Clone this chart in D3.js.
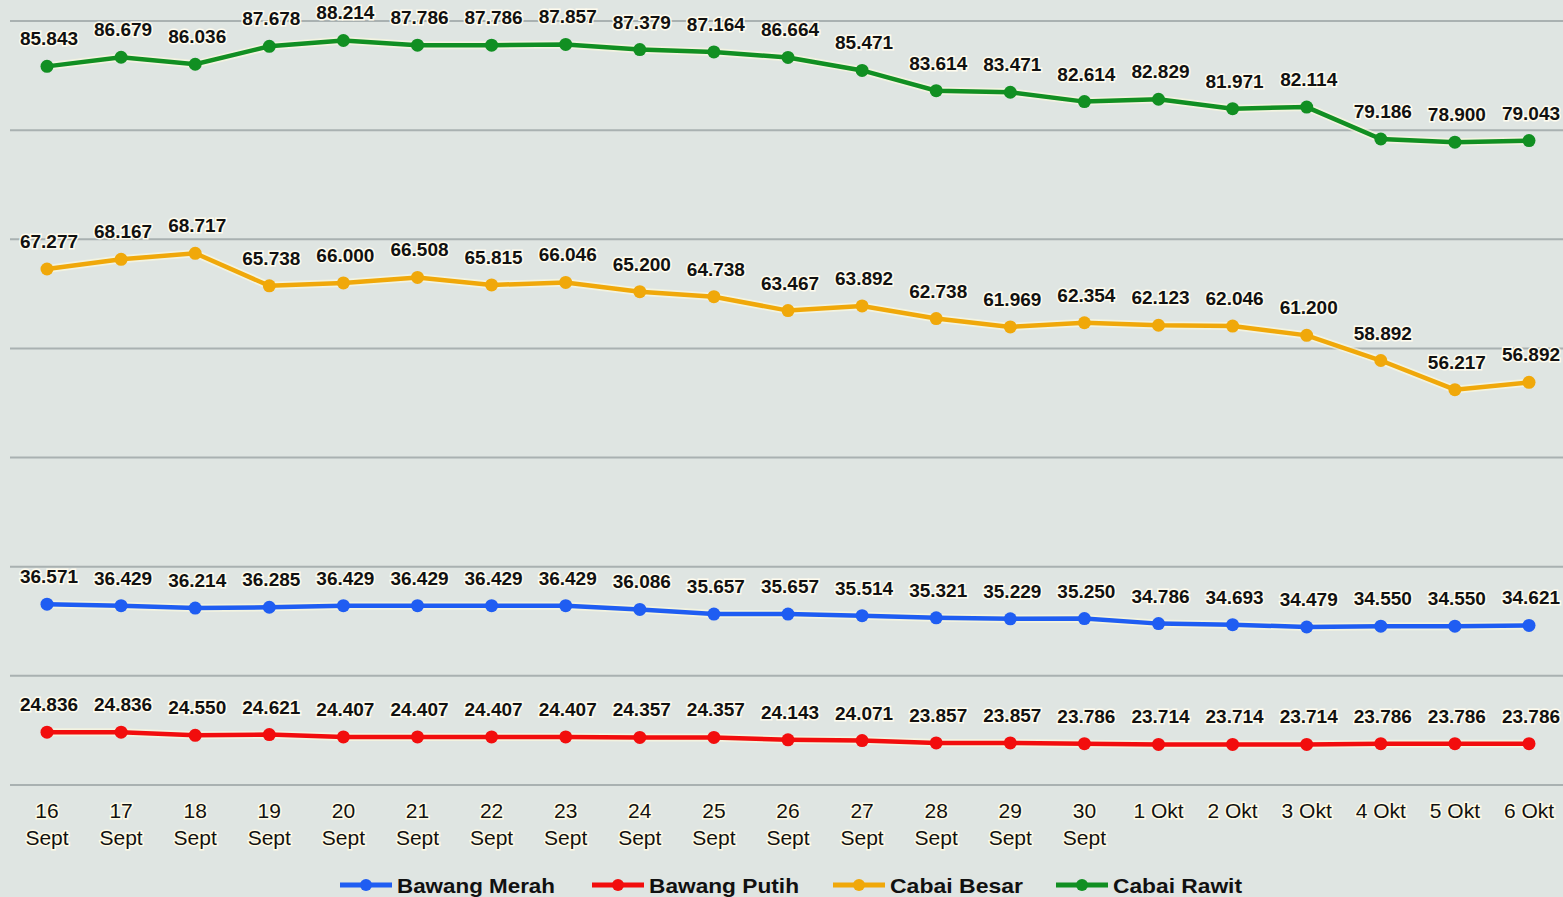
<!doctype html>
<html>
<head>
    <meta charset="UTF-8">
    <title>harga</title>
    <script src="https://d3js.org/d3.v7.min.js"></script>
    <style>
        body { margin: 0; background: #dfe5e2; }
        text { font-family: "Liberation Sans", Arial, sans-serif; }
    </style>
</head>
<body>
<svg width="1563" height="897"></svg>
<script>
    var days = ["16 Sept","17 Sept","18 Sept","19 Sept","20 Sept","21 Sept","22 Sept","23 Sept","24 Sept","25 Sept",
                "26 Sept","27 Sept","28 Sept","29 Sept","30 Sept","1 Okt","2 Okt","3 Okt","4 Okt","5 Okt","6 Okt"];

    var bawangMerah = [36.571,36.429,36.214,36.285,36.429,36.429,36.429,36.429,36.086,35.657,
                       35.657,35.514,35.321,35.229,35.250,34.786,34.693,34.479,34.550,34.550,34.621];
    var bawangPutih = [24.836,24.836,24.550,24.621,24.407,24.407,24.407,24.407,24.357,24.357,
                       24.143,24.071,23.857,23.857,23.786,23.714,23.714,23.714,23.786,23.786,23.786];
    var cabaiBesar  = [67.277,68.167,68.717,65.738,66.000,66.508,65.815,66.046,65.200,64.738,
                       63.467,63.892,62.738,61.969,62.354,62.123,62.046,61.200,58.892,56.217,56.892];
    var cabaiRawit  = [85.843,86.679,86.036,87.678,88.214,87.786,87.786,87.857,87.379,87.164,
                       86.664,85.471,83.614,83.471,82.614,82.829,81.971,82.114,79.186,78.900,79.043];

    var gridTicks = [20,30,40,50,60,70,80,90];

    var series = [
        {name: "Bawang Merah", values: bawangMerah, color: "#1f5df2"},
        {name: "Bawang Putih", values: bawangPutih, color: "#f20d0d"},
        {name: "Cabai Besar",  values: cabaiBesar,  color: "#f0a80a"},
        {name: "Cabai Rawit",  values: cabaiRawit,  color: "#118f22"}
    ];

    var svg = d3.select("svg");

    var x = d3.scalePoint().domain(days).range([47, 1529]);
    var y = d3.scaleLinear().domain([20, 90]).range([785, 21]);

    // grid
    svg.append("g").selectAll("line").data(gridTicks).enter().append("line")
        .attr("x1", 10).attr("x2", 1563)
        .attr("y1", function(d){ return y(d); })
        .attr("y2", function(d){ return y(d); })
        .attr("stroke", "#a9b1b1").attr("stroke-width", 2);

    // x labels
    var xl = svg.append("g").selectAll("text").data(days).enter().append("text")
        .attr("text-anchor", "middle")
        .attr("font-size", 21)
        .attr("fill", "#111")
        .attr("stroke", "#fffbe6").attr("stroke-width", 3).attr("paint-order", "stroke")
        .attr("x", function(d){ return x(d); });
    xl.each(function(d){
        var parts = d.split(" ");
        var t = d3.select(this);
        if (parts[1] === "Sept") {
            t.append("tspan").attr("x", x(d)).attr("y", 818).text(parts[0]);
            t.append("tspan").attr("x", x(d)).attr("y", 845).text(parts[1]);
        } else {
            t.append("tspan").attr("x", x(d)).attr("y", 818).text(d);
        }
    });

    var line = d3.line()
        .x(function(d, i){ return x(days[i]); })
        .y(function(d){ return y(d); });

    series.forEach(function(s){
        var g = svg.append("g");
        g.append("path").datum(s.values)
            .attr("d", line)
            .attr("fill", "none")
            .attr("stroke", "#fffbe0").attr("stroke-width", 8).attr("stroke-opacity", 0.6);
        g.append("path").datum(s.values)
            .attr("d", line)
            .attr("fill", "none")
            .attr("stroke", s.color).attr("stroke-width", 4.5);
        g.selectAll("circle").data(s.values).enter().append("circle")
            .attr("cx", function(d, i){ return x(days[i]); })
            .attr("cy", function(d){ return y(d); })
            .attr("r", 6.5)
            .attr("fill", s.color);
        g.selectAll("text").data(s.values).enter().append("text")
            .attr("x", function(d, i){ return x(days[i]) + 2; })
            .attr("y", function(d){ return y(d) - 21; })
            .attr("text-anchor", "middle")
            .attr("font-size", 19)
            .attr("font-weight", "bold")
            .attr("fill", "#111")
            .attr("stroke", "#fffcee").attr("stroke-width", 3).attr("paint-order", "stroke")
            .text(function(d){ return d.toFixed(3); });
    });

    // legend
    var legX = [340, 592, 833, 1056];
    var leg = svg.append("g").selectAll("g").data(series).enter().append("g")
        .attr("transform", function(d, i){ return "translate(" + legX[i] + ",885)"; });
    leg.append("line").attr("x1", 0).attr("x2", 52).attr("y1", 0).attr("y2", 0)
        .attr("stroke", function(d){ return d.color; }).attr("stroke-width", 5);
    leg.append("circle").attr("cx", 26).attr("cy", 0).attr("r", 6)
        .attr("fill", function(d){ return d.color; });
    leg.append("text").attr("x", 57).attr("y", 8)
        .attr("font-size", 21).attr("font-weight", "bold").attr("fill", "#111")
        .attr("textLength", function(d, i){ return [158, 150, 133, 129][i]; })
        .attr("lengthAdjust", "spacingAndGlyphs")
        .text(function(d){ return d.name; });
</script>
</body>
</html>
